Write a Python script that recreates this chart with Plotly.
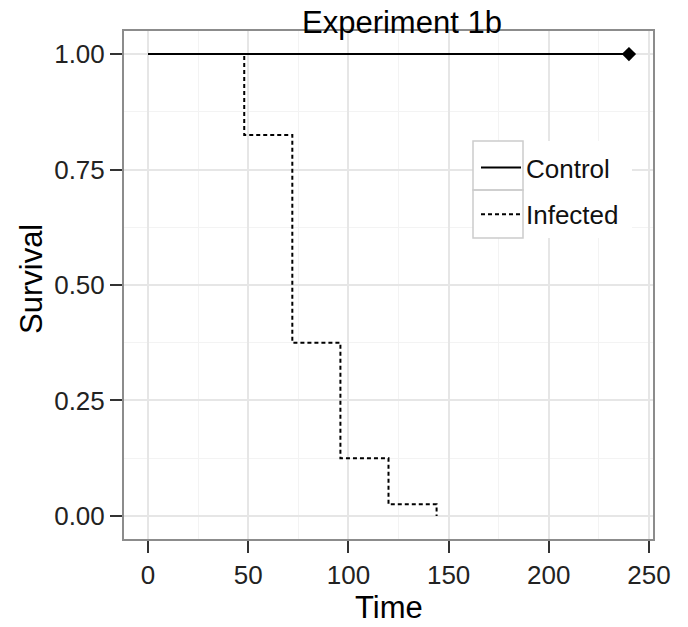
import plotly.graph_objects as go

# Data
control_time = [0, 240]
control_surv = [1.0, 1.0]
censor_time = [240]
censor_surv = [1.0]
infected_time = [0, 48, 72, 96, 120, 144]
infected_surv = [1.0, 0.825, 0.375, 0.125, 0.025, 0.0]

x_ticks = [0, 50, 100, 150, 200, 250]
y_ticks = [0.0, 0.25, 0.5, 0.75, 1.0]
y_tick_labels = ["0.00", "0.25", "0.50", "0.75", "1.00"]

FONT = "Liberation Sans, Arial, sans-serif"

W, H = 688, 627
L, R, T, B = 124, 35, 31, 88
pw, ph = W - L - R, H - T - B


def px(x):
    return (x - L) / pw


def py(y):
    return 1 - (y - T) / ph


fig = go.Figure()
fig.add_trace(go.Scatter(
    x=control_time, y=control_surv, mode="lines", name="Control",
    legendgroup="c",
    line=dict(color="black", width=2, shape="hv"),
))
fig.add_trace(go.Scatter(
    x=infected_time, y=infected_surv, mode="lines", name="Infected",
    legendgroup="i",
    line=dict(color="black", width=2, shape="hv", dash="4px,3px"),
))
fig.add_trace(go.Scatter(
    x=censor_time, y=censor_surv, mode="markers", showlegend=False,
    marker=dict(symbol="diamond", size=11, color="black"),
))

# legend background and key boxes
shapes = [
    dict(type="rect", xref="paper", yref="paper", layer="above",
         x0=px(473), x1=px(632), y0=py(141), y1=py(238),
         fillcolor="white", line=dict(width=0)),
    dict(type="rect", xref="paper", yref="paper", layer="above",
         x0=px(473), x1=px(523), y0=py(141), y1=py(190),
         fillcolor="rgba(0,0,0,0)", line=dict(color="#cccccc", width=1.5)),
    dict(type="rect", xref="paper", yref="paper", layer="above",
         x0=px(473), x1=px(523), y0=py(190), y1=py(238),
         fillcolor="rgba(0,0,0,0)", line=dict(color="#cccccc", width=1.5)),
]

fig.update_layout(
    width=W, height=H,
    margin=dict(l=L, r=R, t=T, b=B),
    paper_bgcolor="white", plot_bgcolor="white",
    font=dict(family=FONT, color="#222222"),
    showlegend=True,
    shapes=shapes,
    legend=dict(
        x=px(476), y=py(144), xanchor="left", yanchor="top",
        bgcolor="rgba(0,0,0,0)", borderwidth=0,
        font=dict(size=26, color="#111111", family=FONT),
        tracegroupgap=10, itemwidth=40,
    ),
    annotations=[
        dict(text="Experiment 1b", x=px(402), y=py(22),
             xref="paper", yref="paper", xanchor="center", yanchor="middle",
             showarrow=False, font=dict(size=31, color="black", family=FONT)),
        dict(text="Time", x=px(389), y=py(607),
             xref="paper", yref="paper", xanchor="center", yanchor="middle",
             showarrow=False, font=dict(size=31, color="black", family=FONT)),
        dict(text="Survival", x=px(31), y=py(279),
             xref="paper", yref="paper", xanchor="center", yanchor="middle",
             textangle=-90, showarrow=False,
             font=dict(size=31, color="black", family=FONT)),
    ],
)

fig.update_xaxes(
    range=[-12, 252], tickvals=x_ticks, ticks="outside", ticklen=12,
    tickwidth=2, tickcolor="#333333", tickfont=dict(size=26),
    showgrid=True, gridcolor="#e6e6e6", gridwidth=1.5,
    minor=dict(dtick=25, tick0=25, showgrid=True, gridcolor="#f3f3f3", gridwidth=1, ticks=""),
    showline=True, mirror=True, linecolor="#8c8c8c", linewidth=2,
    zeroline=False,
)
fig.update_yaxes(
    range=[-0.05, 1.05], tickvals=y_ticks, ticktext=y_tick_labels,
    ticks="outside", ticklen=12, tickwidth=2, tickcolor="#333333",
    tickfont=dict(size=26),
    showgrid=True, gridcolor="#e6e6e6", gridwidth=1.5,
    minor=dict(dtick=0.125, tick0=0.125, showgrid=True, gridcolor="#f3f3f3", gridwidth=1, ticks=""),
    showline=True, mirror=True, linecolor="#8c8c8c", linewidth=2,
    zeroline=False,
)

fig.write_html("out.html")
